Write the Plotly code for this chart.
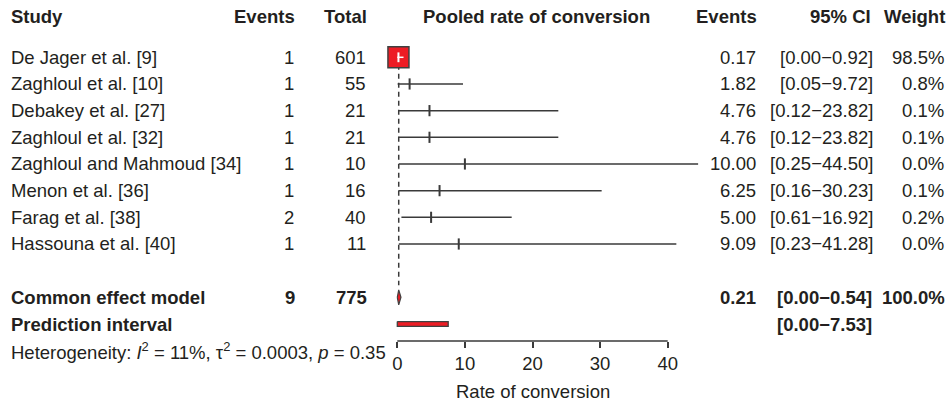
import plotly.graph_objects as go

# ---------------- data ----------------
studies = ["De Jager et al. [9]", "Zaghloul et al. [10]", "Debakey et al. [27]",
           "Zaghloul et al. [32]", "Zaghloul and Mahmoud [34]", "Menon et al. [36]",
           "Farag et al. [38]", "Hassouna et al. [40]"]
events = [1, 1, 1, 1, 1, 1, 2, 1]
totals = [601, 55, 21, 21, 10, 16, 40, 11]
rates = [0.17, 1.82, 4.76, 4.76, 10.00, 6.25, 5.00, 9.09]
ci_low = [0.00, 0.05, 0.12, 0.12, 0.25, 0.16, 0.61, 0.23]
ci_high = [0.92, 9.72, 23.82, 23.82, 44.50, 30.23, 16.92, 41.28]
weights = [98.5, 0.8, 0.1, 0.1, 0.0, 0.1, 0.2, 0.0]

pooled_events = 9
pooled_total = 775
pooled_rate = 0.21
pooled_low = 0.00
pooled_high = 0.54
pooled_weight = 100.0
pred_low = 0.00
pred_high = 7.53
x_ticks = [0, 10, 20, 30, 40]
het_I2 = 11
het_tau2 = "0.0003"
het_p = 0.35

headers = ["Study", "Events", "Total", "Pooled rate of conversion", "Events", "95% CI", "Weight"]
x_title = "Rate of conversion"

# ---------------- layout geometry ----------------
W, H = 948, 405
X0_PX, PX_PER_UNIT = 397.3, 6.76
ROW1_PX, ROW_PX = 57.3, 26.67
FONT = "Liberation Sans, Arial, sans-serif"
FS = 18.5
TXT = "#231F20"
LINE = "#3a3a3a"
RED = "#ED1C24"
BORDER = "#404040"

x_range = [-X0_PX / PX_PER_UNIT, (W - X0_PX) / PX_PER_UNIT]
y_range = [1 + (H - ROW1_PX) / ROW_PX, 1 - ROW1_PX / ROW_PX]

study_rows = list(range(1, len(studies) + 1))
row_common = len(studies) + 2
row_pred = row_common + 1
row_het = row_pred + 1
row_header = -0.54
row_axis = 11.64


def px(p):
    return p / W


def fmt_ci(lo, hi):
    return f"[{lo:.2f}\u2212{hi:.2f}]"


fig = go.Figure()

# big square study (largest weight) drawn as square with white CI inside
big = max(range(len(weights)), key=lambda i: weights[i])
small = [i for i in range(len(studies)) if i != big]

# CI lines for small studies
xs, ys = [], []
for i in small:
    xs += [ci_low[i], ci_high[i], None]
    ys += [study_rows[i], study_rows[i], None]
fig.add_trace(go.Scatter(x=xs, y=ys, mode="lines",
                         line=dict(color=LINE, width=1.5), hoverinfo="skip"))
fig.add_trace(go.Scatter(x=[rates[i] for i in small], y=[study_rows[i] for i in small],
                         mode="markers",
                         marker=dict(symbol="line-ns", size=8,
                                     line=dict(color=LINE, width=2)),
                         hoverinfo="skip"))

# square
fig.add_trace(go.Scatter(x=[rates[big]], y=[study_rows[big]], mode="markers",
                         marker=dict(symbol="square", size=21, color=RED,
                                     line=dict(color=BORDER, width=1.5)),
                         hoverinfo="skip"))
fig.add_trace(go.Scatter(x=[ci_low[big], ci_high[big]], y=[study_rows[big]] * 2,
                         mode="lines", line=dict(color="white", width=1.5),
                         hoverinfo="skip"))
fig.add_trace(go.Scatter(x=[rates[big]], y=[study_rows[big]], mode="markers",
                         marker=dict(symbol="line-ns", size=7,
                                     line=dict(color="white", width=2)),
                         hoverinfo="skip"))

# diamond
dh = 7.5 / ROW_PX
fig.add_trace(go.Scatter(
    x=[pooled_low, pooled_rate, pooled_high, pooled_rate, pooled_low],
    y=[row_common, row_common - dh, row_common, row_common + dh, row_common],
    mode="lines", fill="toself", fillcolor=RED,
    line=dict(color=BORDER, width=1.2), hoverinfo="skip"))

# prediction interval
ph = 2.4 / ROW_PX
fig.add_trace(go.Scatter(
    x=[pred_low, pred_high, pred_high, pred_low, pred_low],
    y=[row_pred - ph, row_pred - ph, row_pred + ph, row_pred + ph, row_pred - ph],
    mode="lines", fill="toself", fillcolor=RED,
    line=dict(color=BORDER, width=1.3), hoverinfo="skip"))

# dashed reference line at pooled estimate
fig.add_shape(type="line", xref="x", yref="y", x0=pooled_rate, x1=pooled_rate,
              y0=0.6, y1=9.55, layer="below",
              line=dict(color=LINE, width=1.5, dash="5px,4px"))
# axis line
fig.add_shape(type="line", xref="x", yref="y", x0=x_ticks[0], x1=x_ticks[-1],
              y0=row_axis, y1=row_axis, line=dict(color=LINE, width=1.5))

ann = []


def text(x_px, row, s, anchor, bold=False, yref="y"):
    ann.append(dict(x=px(x_px), xref="paper", y=row, yref=yref, text=f"<b>{s}</b>" if bold else s,
                    xanchor=anchor, yanchor="middle", showarrow=False,
                    font=dict(family=FONT, size=FS, color=TXT)))


# headers
text(9.3, row_header, headers[0], "left", True)
text(297, row_header, headers[1], "right", True)
text(369, row_header, headers[2], "right", True)
text(536.7, row_header, headers[3], "center", True)
text(758.5, row_header, headers[4], "right", True)
text(872.5, row_header, headers[5], "right", True)
text(947, row_header, headers[6], "right", True)

for i, r in enumerate(study_rows):
    text(9.3, r, studies[i], "left")
    text(296, r, str(events[i]), "right")
    text(368, r, str(totals[i]), "right")
    text(758, r, f"{rates[i]:.2f}", "right")
    text(874.5, r, fmt_ci(ci_low[i], ci_high[i]), "right")
    text(946, r, f"{weights[i]:.1f}%", "right")

text(9.3, row_common, "Common effect model", "left", True)
text(297, row_common, str(pooled_events), "right", True)
text(369, row_common, str(pooled_total), "right", True)
text(757.5, row_common, f"{pooled_rate:.2f}", "right", True)
text(874, row_common, fmt_ci(pooled_low, pooled_high), "right", True)
text(947, row_common, f"{pooled_weight:.1f}%", "right", True)

text(9.3, row_pred, "Prediction interval", "left", True)
text(874, row_pred, fmt_ci(pred_low, pred_high), "right", True)

text(9.3, row_het,
     f"Heterogeneity: <i>I</i><sup>2</sup> = {het_I2}%, \u03c4<sup>2</sup> = {het_tau2}, "
     f"<i>p</i> = {het_p:.2f}", "left")

# axis title
ann.append(dict(x=(x_ticks[0] + x_ticks[-1]) / 2, xref="x", y=1 - 391.7 / H, yref="paper",
                text=x_title, xanchor="center", yanchor="middle", showarrow=False,
                font=dict(family=FONT, size=FS, color=TXT)))

fig.update_layout(
    width=W, height=H, margin=dict(l=0, r=0, t=0, b=0),
    paper_bgcolor="white", plot_bgcolor="white",
    showlegend=False, annotations=ann,
    font=dict(family=FONT, size=FS, color=TXT),
    xaxis=dict(range=x_range, domain=[0, 1], anchor="free", position=1 - 341 / H,
               tickvals=x_ticks, ticks="outside", ticklen=6, tickwidth=1.5,
               tickcolor=LINE, showgrid=False, zeroline=False, showline=False,
               tickfont=dict(family=FONT, size=FS, color=TXT), fixedrange=True),
    yaxis=dict(range=y_range, domain=[0, 1], visible=False, fixedrange=True),
)

fig.write_html("out.html", config={"displayModeBar": False},
               post_script="document.body.style.margin='0';document.body.style.padding='0';"
                           "document.body.style.overflow='hidden';")
